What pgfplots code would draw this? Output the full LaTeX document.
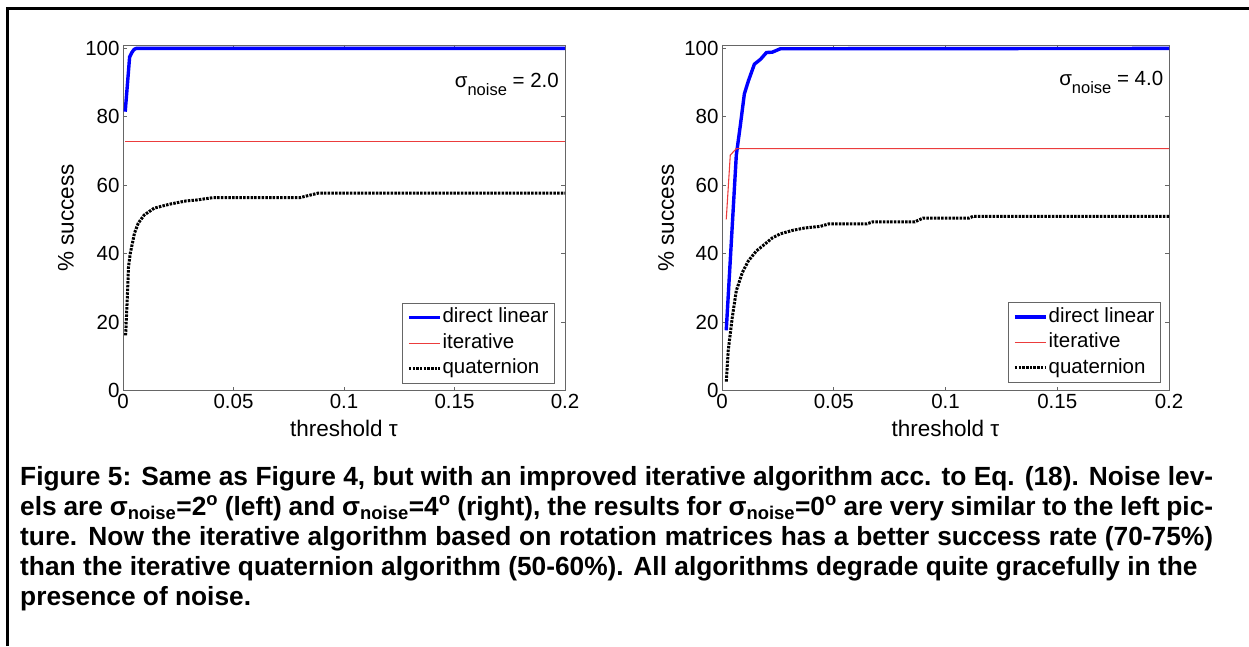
\documentclass[border=0pt]{standalone}
\usepackage{fontspec}
\setmainfont{Liberation Sans}
\usepackage{pgfplots}
\pgfplotsset{compat=1.18}

\definecolor{mblue}{RGB}{0,0,255}
\definecolor{mred}{RGB}{235,60,60}

\newcommand{\plotfont}{\fontsize{20.5}{24}\selectfont}
\newcommand{\labfont}{\fontsize{22.5}{26}\selectfont}
\newcommand{\capfont}{\fontsize{26.3}{30}\selectfont\bfseries}
\newcommand{\snoise}{σ\textsubscript{noise}}

\pgfplotsset{
  matlab/.style={
    scale only axis,
    xmin=0, xmax=0.2, ymin=0, ymax=101,
    xtick={0,0.05,0.1,0.15,0.2},
    xticklabels={0,0.05,0.1,0.15,0.2},
    ytick={0,20,40,60,80,100},
    tick align=inside,
    major tick length=4pt,
    axis line style={black!60, line width=0.7pt},
    tick style={black!60, line width=0.7pt},
    /pgf/number format/assume math mode=true,
    tick label style={font=\plotfont},
    label style={font=\labfont},
    xlabel={threshold τ},
    ylabel={\% success},
    xlabel style={at={(axis description cs:0.5,-0.1085)}, anchor=center},
    legend cell align=left,
    legend image code/.code={\draw[##1] (0pt,0pt) -- (31pt,0pt);},
    legend style={
      anchor=south east,
      draw=black!60, line width=0.7pt,
      font=\plotfont,
      inner xsep=5pt, inner ysep=3pt,
      row sep=3pt,
      nodes={inner sep=1pt, text height=15.5pt, text depth=5pt},
    },
  },
  dlin/.style={mblue, line width=3.4pt},
  iter/.style={mred, line width=1.1pt},
  quat/.style={black, line width=3pt, dash pattern=on 2.5pt off 1.2pt},
}

\begin{document}
\begin{tikzpicture}
\useasboundingbox (0pt,0pt) rectangle (1249pt,646pt);
\draw[line width=2.7pt] (7.8pt,0pt) -- (7.8pt,637.3pt) -- (1249pt,637.3pt);

% left: sigma = 2
\begin{axis}[matlab,
  at={(123pt,255.5pt)}, anchor=south west,
  width=442pt, height=345.5pt,
  ylabel style={at={(axis description cs:-0.129,0.5)}, anchor=center},
  legend style={at={(axis description cs:0.977,0.021)}},
]
\addplot[dlin] coordinates {
  (0.001,81.5) (0.003,97.5) (0.004,98.8) (0.005,99.7) (0.006,100) (0.2,100)
};
\addlegendentry{direct linear}
\addplot[iter] coordinates {
  (0.001,72.8) (0.2,72.8)
};
\addlegendentry{iterative}
\addplot[quat] coordinates {
  (0.0012,16.1) (0.0019,26.4) (0.0025,36.2) (0.0033,40.1) (0.0052,46.0)
  (0.0069,48.9) (0.0096,51.3) (0.0141,53.3) (0.0213,54.5) (0.0284,55.4)
  (0.0335,55.7) (0.0409,56.4) (0.0802,56.4) (0.0883,57.7) (0.2,57.7)
};
\addlegendentry{quaternion}
\node[anchor=base east, font=\plotfont, inner sep=0pt] at (axis cs:0.1973,88.6)
  {σ\raisebox{-8.5pt}{\fontsize{16.5}{18}\selectfont noise} = 2.0};
\end{axis}

% right: sigma = 4
\begin{axis}[matlab,
  at={(722pt,255.5pt)}, anchor=south west,
  width=447pt, height=345.5pt,
  ylabel style={at={(axis description cs:-0.125,0.5)}, anchor=center},
  legend style={at={(axis description cs:0.982,0.023)}},
]
\addplot[dlin] coordinates {
  (0.0019,17.6) (0.0064,68.8) (0.0082,77.5) (0.0100,86.7) (0.0118,90.5)
  (0.0145,95.4) (0.0172,96.8) (0.0199,98.8) (0.0225,98.9) (0.0261,99.9)
  (0.2,100)
};
\addlegendentry{direct linear}
\addplot[iter] coordinates {
  (0.0019,50.0) (0.0037,68.8) (0.0064,70.7) (0.2,70.7)
};
\addlegendentry{iterative}
\addplot[quat] coordinates {
  (0.0019,2.6) (0.0028,11.8) (0.0046,21.4) (0.0064,29.2) (0.0091,34.5)
  (0.0118,37.9) (0.0154,40.8) (0.0190,42.7) (0.0225,44.6) (0.0261,45.8)
  (0.0315,46.8) (0.0369,47.5) (0.0441,48.0) (0.0477,48.7) (0.0647,48.7)
  (0.0674,49.3) (0.0863,49.3) (0.0899,50.4) (0.1105,50.4) (0.1123,50.9)
  (0.2,50.9)
};
\addlegendentry{quaternion}
\node[anchor=base east, font=\plotfont, inner sep=0pt] at (axis cs:0.1975,89.3)
  {σ\raisebox{-8.5pt}{\fontsize{16.5}{18}\selectfont noise} = 4.0};
\end{axis}

% caption
\begin{scope}[every node/.style={anchor=base west, inner sep=0pt, font=\capfont}]
\node at (20pt,161pt) {\makebox[1193pt][s]{Figure 5: Same as Figure 4, but with an improved iterative algorithm acc. to Eq. (18). Noise lev-}};
\node at (20pt,131pt) {\makebox[1193pt][s]{els are \snoise=2\textsuperscript{o} (left) and \snoise=4\textsuperscript{o} (right), the results for \snoise=0\textsuperscript{o} are very similar to the left pic-}};
\node at (20pt,101pt) {\makebox[1193pt][s]{ture. Now the iterative algorithm based on rotation matrices has a better success rate (70-75\%)}};
\node at (20pt,71pt) {than the iterative quaternion algorithm (50-60\%). All algorithms degrade quite gracefully in the};
\node at (20pt,41pt) {presence of noise.};
\end{scope}
\end{tikzpicture}
\end{document}
